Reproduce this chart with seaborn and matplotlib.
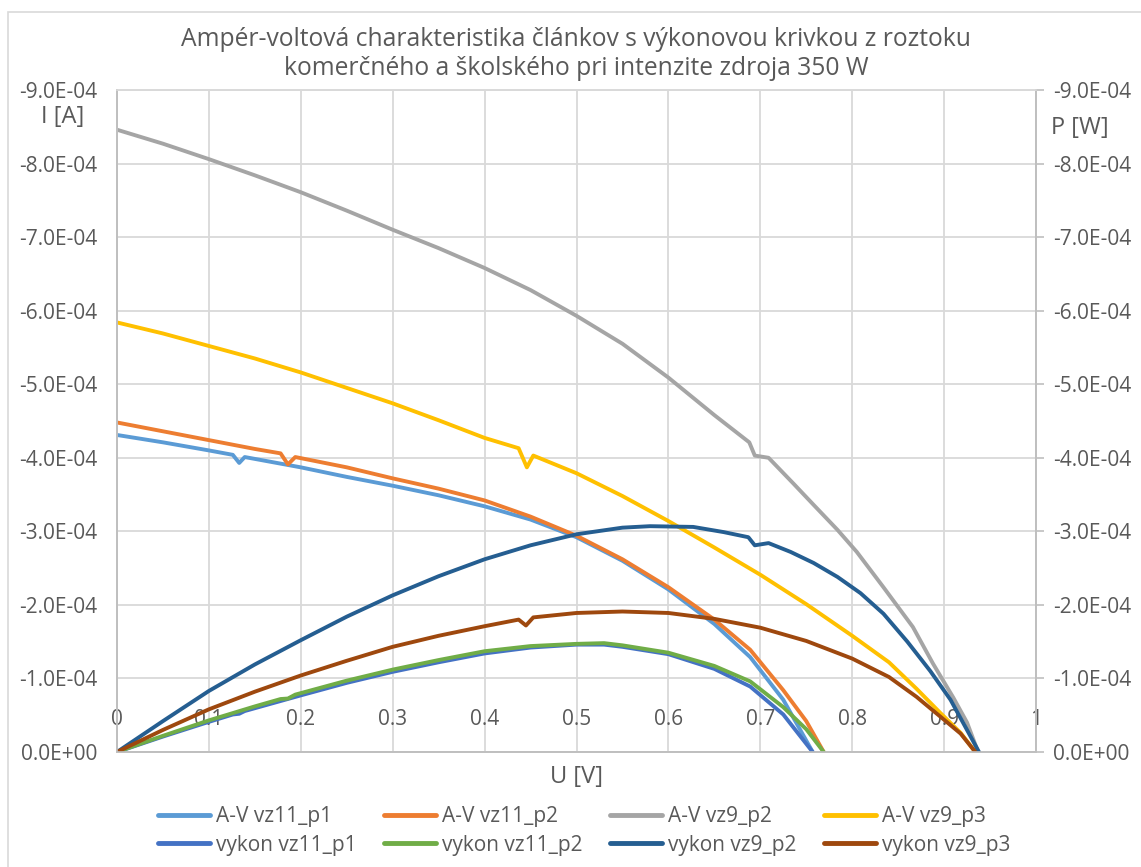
import numpy as np
import pandas as pd
import matplotlib
matplotlib.use("Agg")
import matplotlib.pyplot as plt
from matplotlib.ticker import FuncFormatter, MultipleLocator
from matplotlib.patches import Rectangle
import seaborn as sns

# ---- measured data (current in 1e-4 A, power in 1e-4 W, sign as recorded) ----
u_av_vz11_p1 = [0, 0.05, 0.1, 0.126, 0.133, 0.139, 0.2, 0.25, 0.3, 0.35, 0.4, 0.45,
                0.5, 0.55, 0.6, 0.65, 0.689, 0.725, 0.757]
i_av_vz11_p1 = [4.31, 4.21, 4.10, 4.04, 3.93, 4.01, 3.87, 3.74, 3.62, 3.49, 3.34, 3.16,
                2.92, 2.60, 2.21, 1.74, 1.29, 0.71, 0.0]

u_av_vz11_p2 = [0, 0.05, 0.1, 0.15, 0.178, 0.186, 0.194, 0.25, 0.3, 0.35, 0.4, 0.45,
                0.5, 0.55, 0.6, 0.65, 0.689, 0.725, 0.75, 0.769]
i_av_vz11_p2 = [4.48, 4.36, 4.24, 4.12, 4.06, 3.91, 4.01, 3.87, 3.72, 3.58, 3.42, 3.20,
                2.94, 2.62, 2.24, 1.80, 1.39, 0.84, 0.42, 0.0]

u_av_vz9_p2 = [0, 0.05, 0.1, 0.15, 0.2, 0.25, 0.3, 0.35, 0.4, 0.45, 0.5,
               0.55, 0.6, 0.65, 0.688, 0.694, 0.709, 0.736, 0.758, 0.784, 0.805,
               0.834, 0.866, 0.888, 0.91, 0.925, 0.937]
i_av_vz9_p2 = [8.46, 8.27, 8.06, 7.84, 7.61, 7.36, 7.10, 6.85, 6.58, 6.28, 5.93,
               5.55, 5.09, 4.58, 4.21, 4.03, 4.00, 3.65, 3.36, 3.02, 2.72,
               2.24, 1.70, 1.20, 0.74, 0.40, 0.0]

u_av_vz9_p3 = [0, 0.05, 0.1, 0.15, 0.2, 0.25, 0.3, 0.35, 0.4, 0.437, 0.446,
               0.453, 0.5, 0.55, 0.6, 0.65, 0.7, 0.75, 0.8, 0.84, 0.87,
               0.896, 0.918, 0.934]
i_av_vz9_p3 = [5.84, 5.69, 5.52, 5.35, 5.16, 4.95, 4.74, 4.51, 4.27, 4.13, 3.87,
               4.03, 3.79, 3.48, 3.14, 2.78, 2.41, 2.01, 1.58, 1.22, 0.86,
               0.53, 0.26, 0.0]

u_p_vz11_p1 = [0, 0.05, 0.1, 0.126, 0.133, 0.139, 0.2, 0.25, 0.3, 0.35, 0.4, 0.45,
               0.5, 0.53, 0.55, 0.6, 0.65, 0.689, 0.725, 0.757]
p_vz11_p1 = [0, 0.21, 0.41, 0.51, 0.52, 0.557, 0.77, 0.94, 1.09, 1.22, 1.34, 1.42,
             1.46, 1.46, 1.43, 1.33, 1.13, 0.89, 0.51, 0.0]

u_p_vz11_p2 = [0, 0.05, 0.1, 0.15, 0.178, 0.186, 0.194, 0.25, 0.3, 0.35, 0.4, 0.45,
               0.5, 0.53, 0.55, 0.6, 0.65, 0.689, 0.725, 0.75, 0.769]
p_vz11_p2 = [0, 0.22, 0.43, 0.62, 0.72, 0.727, 0.78, 0.97, 1.12, 1.25, 1.37, 1.44,
             1.47, 1.48, 1.45, 1.35, 1.17, 0.96, 0.61, 0.31, 0.0]

u_p_vz9_p2 = [0, 0.05, 0.1, 0.15, 0.2, 0.25, 0.3, 0.35, 0.4, 0.45, 0.5, 0.55,
              0.58, 0.627, 0.66, 0.687, 0.694, 0.709, 0.733, 0.758, 0.784, 0.809,
              0.834, 0.86, 0.885, 0.907, 0.921, 0.938]
p_vz9_p2 = [0, 0.42, 0.83, 1.19, 1.52, 1.84, 2.13, 2.39, 2.62, 2.81, 2.96, 3.05,
            3.07, 3.06, 2.99, 2.92, 2.81, 2.84, 2.72, 2.57, 2.38, 2.16,
            1.88, 1.50, 1.10, 0.71, 0.39, 0.0]

u_p_vz9_p3 = [0, 0.05, 0.1, 0.15, 0.2, 0.25, 0.3, 0.35, 0.4, 0.437, 0.445, 0.453,
              0.5, 0.55, 0.6, 0.65, 0.7, 0.75, 0.8, 0.84, 0.87, 0.896, 0.918, 0.934]
p_vz9_p3 = [0, 0.30, 0.58, 0.82, 1.04, 1.24, 1.43, 1.58, 1.71, 1.80, 1.72, 1.83,
            1.89, 1.91, 1.89, 1.81, 1.69, 1.51, 1.27, 1.02, 0.75, 0.48, 0.25, 0.0]

SCALE = -1e-4  # stored magnitudes in 1e-4 units, recorded as negative values

av_series = [
    ("A-V vz11_p1", u_av_vz11_p1, i_av_vz11_p1, "#5B9BD5"),
    ("A-V vz11_p2", u_av_vz11_p2, i_av_vz11_p2, "#ED7D31"),
    ("A-V vz9_p2", u_av_vz9_p2, i_av_vz9_p2, "#A5A5A5"),
    ("A-V vz9_p3", u_av_vz9_p3, i_av_vz9_p3, "#FFC000"),
]
p_series = [
    ("vykon vz11_p1", u_p_vz11_p1, p_vz11_p1, "#4472C4"),
    ("vykon vz11_p2", u_p_vz11_p2, p_vz11_p2, "#70AD47"),
    ("vykon vz9_p2", u_p_vz9_p2, p_vz9_p2, "#255E91"),
    ("vykon vz9_p3", u_p_vz9_p3, p_vz9_p3, "#9E480E"),
]

# ---- styling ----
sns.set_theme(style="white")
plt.rcParams["font.family"] = ["Open Sans", "DejaVu Sans"]
TXT = "#595959"
GRID = "#D9D9D9"
AXLINE = "#BFBFBF"
FS_TICK = 15
LW = 2.8

W, H = 1141, 867
fig = plt.figure(figsize=(W / 100, H / 100), dpi=100)
L, R, B, T = 117, 1036, 752, 90
ax = fig.add_axes([L / W, 1 - B / H, (R - L) / W, (B - T) / H])
ax2 = ax.twinx()

for name, u, v, col in av_series:
    df = pd.DataFrame({"U": u, "I": np.array(v) * SCALE})
    sns.lineplot(data=df, x="U", y="I", ax=ax, color=col, lw=LW, label=name,
                 legend=False, estimator=None, sort=False)
for name, u, v, col in p_series:
    df = pd.DataFrame({"U": u, "P": np.array(v) * SCALE})
    sns.lineplot(data=df, x="U", y="P", ax=ax2, color=col, lw=LW, label=name,
                 legend=False, estimator=None, sort=False)

fmt = FuncFormatter(lambda y, _: f"{y:.1E}")
for a in (ax, ax2):
    a.set_ylim(0, -9e-4)
    a.yaxis.set_major_locator(MultipleLocator(1e-4))
    a.yaxis.set_major_formatter(fmt)
    a.set_xlim(0, 1)
    a.set_xlabel("")
    a.set_ylabel("")
    for s in a.spines.values():
        s.set_color(AXLINE)
        s.set_linewidth(1.2)
    a.spines["top"].set_color(GRID)

ax.xaxis.set_major_locator(MultipleLocator(0.1))
ax.xaxis.set_major_formatter(
    FuncFormatter(lambda x, _: f"{x:.1f}".rstrip("0").rstrip(".") if abs(x) > 1e-9 else "0"))
ax.grid(True, color=GRID, lw=1.3)
ax.set_axisbelow(True)
ax.tick_params(axis="x", length=0, pad=-31, labelsize=FS_TICK, labelcolor=TXT)
ax.tick_params(axis="y", length=0, pad=14, labelsize=FS_TICK, labelcolor=TXT)
ax2.tick_params(axis="y", length=6, width=1.2, color=AXLINE, pad=6,
                labelsize=FS_TICK, labelcolor=TXT)

# axis titles
fig.text(63 / W, 1 - 117 / H, "I [A]", ha="center", va="center", fontsize=17, color=TXT)
fig.text(1080 / W, 1 - 128 / H, "P [W]", ha="center", va="center", fontsize=17, color=TXT)
fig.text(576 / W, 1 - 777 / H, "U [V]", ha="center", va="center", fontsize=17, color=TXT)

fig.text(576 / W, 1 - 54 / H,
         "Ampér-voltová charakteristika článkov s výkonovou krivkou z roztoku\n"
         "komerčného a školského pri intenzite zdroja 350 W",
         ha="center", va="center", fontsize=17.7, color=TXT, linespacing=1.25)

# legend: first row current curves, second row power curves
h1, l1 = ax.get_legend_handles_labels()
h2, l2 = ax2.get_legend_handles_labels()
handles, labels = [], []
for a_h, a_l, b_h, b_l in zip(h1, l1, h2, l2):
    handles += [a_h, b_h]
    labels += [a_l, b_l]
leg = fig.legend(handles, labels, ncol=4, loc="center",
                 bbox_to_anchor=(584 / W, 1 - 831 / H), frameon=False,
                 fontsize=FS_TICK, handlelength=2.5, handletextpad=0.3,
                 columnspacing=1.3, labelspacing=0.35)
for t in leg.get_texts():
    t.set_color(TXT)
for ln in leg.get_lines():
    ln.set_linewidth(3.5)

# chart area border
fig.patches.append(Rectangle((8 / W, -0.1), 1.2, 1 - 12 / H + 0.1,
                             transform=fig.transFigure, fill=False,
                             edgecolor=GRID, lw=1.2))

fig.savefig("out.png", dpi=100)
